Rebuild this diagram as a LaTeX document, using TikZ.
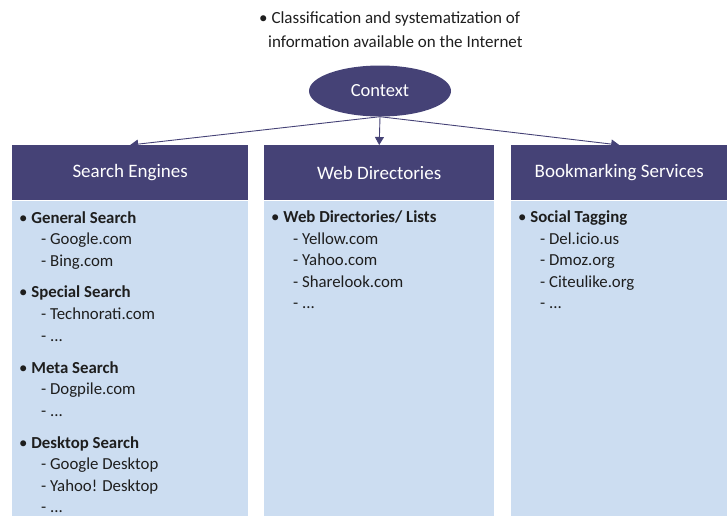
\documentclass[tikz,border=0pt]{standalone}
\usepackage{fontspec}
\setmainfont{Carlito}
\usetikzlibrary{arrows.meta,shapes.geometric}
\definecolor{hdr}{RGB}{69,66,118}
\definecolor{panebg}{RGB}{204,221,241}
\definecolor{ink}{RGB}{30,30,30}

\begin{document}
\begin{tikzpicture}[x=1pt,y=-1pt,
  head/.style={fill=hdr,text=white,minimum height=55pt,inner sep=0pt,anchor=north west,font=\fontsize{19}{21}\selectfont},
  body/.style={fill=panebg,inner sep=0pt,anchor=north west},
  list/.style={anchor=north west,align=left,inner sep=0pt,text=ink,font=\fontsize{16.8}{21.5}\selectfont},
  conn/.style={draw=hdr,line width=0.9pt,-{Triangle[length=8pt,width=9pt]}}]
\useasboundingbox (0,0) rectangle (727,515);

\node[anchor=north west,align=left,inner sep=0pt,text=ink,font=\fontsize{17}{24.5}\selectfont] (note) at (259,11)
  {• Classification and systematization of\\\hspace*{9pt}information available on the Internet};

\node[ellipse,fill=hdr,text=white,minimum width=142pt,minimum height=51pt,font=\fontsize{18.5}{20}\selectfont] (ctx) at (380,91) {Context};

\node[head,minimum width=236pt] (se) at (12,145) {Search Engines};
\node[body,minimum width=236pt,minimum height=315pt] (seb) at (se.south west) {};
\node[head,minimum width=230pt] (wd) at (264,145) {Web Directories};
\node[body,minimum width=230pt,minimum height=315pt] (wdb) at (wd.south west) {};
\node[head,minimum width=216pt] (bm) at (511,145) {Bookmarking Services};
\node[body,minimum width=216pt,minimum height=315pt] (bmb) at (bm.south west) {};

\draw[conn] (ctx.south) -- (se.north);
\draw[conn] (ctx.south) -- (wd.north);
\draw[conn] (ctx.south) -- (bm.north);

\node[list] (sel) at (19,211) {• \textbf{General Search}\\
\hspace*{22pt}- Google.com\\
\hspace*{22pt}- Bing.com\\[10.5pt]
• \textbf{Special Search}\\
\hspace*{22pt}- Technorati.com\\
\hspace*{22pt}- ...\\[10.5pt]
• \textbf{Meta Search}\\
\hspace*{22pt}- Dogpile.com\\
\hspace*{22pt}- ...\\[10.5pt]
• \textbf{Desktop Search}\\
\hspace*{22pt}- Google Desktop\\
\hspace*{22pt}- Yahoo! Desktop\\
\hspace*{22pt}- ...};

\node[list] (wdl) at (271,211) {• \textbf{Web Directories/ Lists}\\
\hspace*{22pt}- Yellow.com\\
\hspace*{22pt}- Yahoo.com\\
\hspace*{22pt}- Sharelook.com\\
\hspace*{22pt}- ...};

\node[list] (bml) at (518,211) {• \textbf{Social Tagging}\\
\hspace*{22pt}- Del.icio.us\\
\hspace*{22pt}- Dmoz.org\\
\hspace*{22pt}- Citeulike.org\\
\hspace*{22pt}- ...};
\end{tikzpicture}
\end{document}
